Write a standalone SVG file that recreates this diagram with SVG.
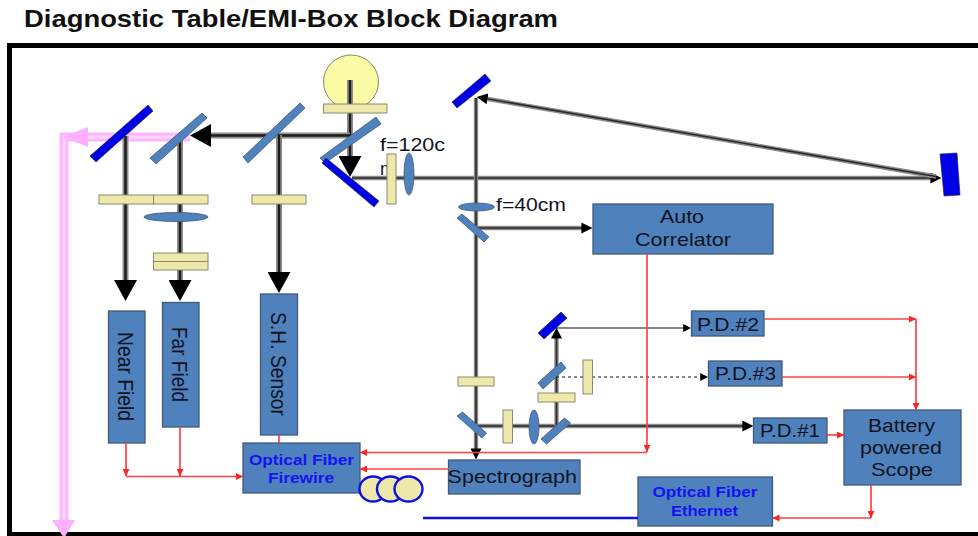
<svg xmlns="http://www.w3.org/2000/svg" width="978" height="536" viewBox="0 0 978 536">
<style>
text{font-family:"Liberation Sans",Arial,sans-serif;fill:#10131f;font-size:19px}
.v{font-size:22px}
.m{font-size:18px}
.b{font-weight:bold;font-size:15px;fill:#1414f0}
.title{font-weight:bold;font-size:24px;fill:#111}
.box{fill:#4f81bd;stroke:#41597a;stroke-width:1.3}
.bs{fill:#4f81bd;stroke:#41597a;stroke-width:.8}
.mir{fill:#0000e6;stroke:#223;stroke-width:.6}
.pl{fill:#eee8aa;stroke:#8a8a70;stroke-width:1}
.under{fill:none;stroke:#8c8c8c;stroke-width:6}
.core{fill:none;stroke:#1c1c1c;stroke-width:2.400}
.tunder{fill:none;stroke:#8c8c8c;stroke-width:4.400}
.tcore{fill:none;stroke:#2a2a2a;stroke-width:1.600}
.red{fill:none;stroke:#ff4040;stroke-width:1.700}
.ar{marker-end:url(#ra)}
.pink{fill:none;stroke:#fdb8fd;stroke-width:9}
.pinkc{fill:none;stroke:#ffd4ff;stroke-width:3}
</style>
<defs>
<marker id="big" markerUnits="userSpaceOnUse" viewBox="0 0 10 10" refX="6.200" refY="5" markerWidth="21" markerHeight="23" preserveAspectRatio="none" orient="auto"><path d="M0 0L10 5L0 10Z" fill="#000"/></marker>
<marker id="mid" markerUnits="userSpaceOnUse" viewBox="0 0 10 10" refX="6" refY="5" markerWidth="11" markerHeight="11" preserveAspectRatio="none" orient="auto"><path d="M0 0L10 5L0 10Z" fill="#000"/></marker>
<marker id="small" markerUnits="userSpaceOnUse" viewBox="0 0 10 10" refX="6" refY="5" markerWidth="8" markerHeight="8" preserveAspectRatio="none" orient="auto"><path d="M0 0L10 5L0 10Z" fill="#000"/></marker>
<marker id="ra" markerUnits="userSpaceOnUse" viewBox="0 0 10 10" refX="10" refY="5" markerWidth="7" markerHeight="7" preserveAspectRatio="none" orient="auto"><path d="M0 0L10 5L0 10Z" fill="#f22"/></marker>
</defs>
<rect width="978" height="536" fill="#fff"/>
<text class="title" x="24" y="27" textLength="534" lengthAdjust="spacingAndGlyphs">Diagnostic Table/EMI-Box Block Diagram</text>
<path d="M978 45.500H9.500V534.500H978" fill="none" stroke="#000" stroke-width="5"/>
<g id="lamp"><ellipse cx="351" cy="82" rx="27.500" ry="27" fill="#fbfba5" stroke="#8a8a60"/></g>
<text class="m" x="380" y="175">m</text>
<g id="connectors">
<g id="pink-beam">
<path class="pink" d="M190 137H64V522"/><path class="pinkc" d="M190 137H64V522"/>
<polygon points="63,137 88,127 88,147" fill="#fdb0fd"/>
<polygon points="52,520 75,520 64,538" fill="#fdb0fd"/>
</g>
<g id="beams">
<path class="under" d="M350 80V165"/><path class="core" d="M350 80V169" marker-end="url(#big)"/>
<path class="under" d="M350 135.500H205"/><path class="core" d="M350 135.500H198" marker-end="url(#big)"/>
<path class="under" d="M279 135V280"/><path class="core" d="M279 135V285" marker-end="url(#big)"/>
<path class="under" d="M180 140V285"/><path class="core" d="M180 140V293" marker-end="url(#big)"/>
<path class="under" d="M125.500 136V285"/><path class="core" d="M125.500 136V293" marker-end="url(#big)"/>
<path class="tunder" d="M352 178H935"/><path class="tcore" d="M352 178H937" marker-end="url(#mid)"/>
<path class="tunder" d="M936 176.500L482 98"/><path class="tcore" d="M936 176.500L481 97.700" marker-end="url(#mid)"/>
<path class="tunder" d="M476 98V452"/><path class="tcore" d="M476 98V455" marker-end="url(#mid)"/>
<path class="tunder" d="M476 228H585"/><path class="tcore" d="M476 228H588" marker-end="url(#mid)"/>
<path class="tunder" d="M476 426H746"/><path class="tcore" d="M476 426H749" marker-end="url(#mid)"/>
<path class="tunder" d="M556.500 426V335"/><path class="tcore" d="M556.500 426V332" marker-end="url(#mid)"/>
<path d="M556 328H688" fill="none" stroke="#111" stroke-width="1.200" marker-end="url(#small)"/>
<path d="M556 377H705" fill="none" stroke="#111" stroke-width="1.200" stroke-dasharray="3 3" marker-end="url(#small)"/>
</g>
</g>
<g id="optics">
<polygon class="mir" points="90,156 148,105 153,111 96,162"/>
<polygon class="bs" points="150,158 202,113 207,118 156,164"/>
<polygon class="bs" points="243,157 300,103 305,108 248,163"/>
<polygon class="bs" points="320,158 376,117 381,124 325,163"/>
<polygon class="mir" points="322,163 326,158 379,201 374,207"/>
<rect class="pl" x="323.500" y="104" width="63.500" height="9"/>
<rect class="pl" x="99" y="195" width="55" height="9"/>
<rect class="pl" x="153.500" y="195" width="54.500" height="9"/>
<rect class="pl" x="252" y="195" width="54" height="9"/>
<ellipse class="bs" cx="176" cy="217" rx="32" ry="4.500"/>
<rect class="pl" x="153.500" y="253" width="54.500" height="8.500"/>
<rect class="pl" x="153.500" y="261.500" width="54.500" height="8.500"/>
<rect class="pl" x="387" y="154" width="9" height="50"/>
<ellipse class="bs" cx="409" cy="174" rx="5" ry="21"/>
<polygon class="mir" points="452,102 485,74 491,81 457,108"/>
<polygon class="mir" points="940,154 957,153 960,195 944,196"/>
<ellipse class="bs" cx="476.500" cy="207" rx="18" ry="4"/>
<polygon class="bs" points="457,218 462,214 489,237 484,242"/>
<rect class="pl" x="458" y="377" width="36" height="9"/>
<polygon class="bs" points="457,416 462.500,412 486.500,433 482,438"/>
<rect class="pl" x="503" y="410" width="9.500" height="33"/>
<ellipse class="bs" cx="534" cy="427" rx="5" ry="17"/>
<polygon class="bs" points="541,439 564.500,418 570.500,423 546.500,444"/>
<rect class="pl" x="538" y="393" width="37" height="9"/>
<polygon class="bs" points="538,383 561,362 566,368 543,389"/>
<rect class="pl" x="583" y="360" width="9.500" height="34"/>
<polygon class="mir" points="538,333 561,312 567,318 544,339"/>
</g>
<text x="380" y="151" textLength="65" lengthAdjust="spacingAndGlyphs">f=120c</text>
<text x="496" y="211" textLength="70" lengthAdjust="spacingAndGlyphs">f=40cm</text>
<g id="near-field"><rect class="box" x="108.500" y="311" width="36.500" height="132"/><text class="v" transform="translate(118,332) rotate(90)" textLength="89" lengthAdjust="spacingAndGlyphs">Near Field</text></g>
<g id="far-field"><rect class="box" x="162.500" y="302.500" width="36.500" height="124.500"/><text class="v" transform="translate(172,327) rotate(90)" textLength="75" lengthAdjust="spacingAndGlyphs">Far Field</text></g>
<g id="sh-sensor"><rect class="box" x="260.500" y="294" width="37" height="141"/><text class="v" transform="translate(271,312) rotate(90)" textLength="104" lengthAdjust="spacingAndGlyphs">S.H. Sensor</text></g>
<g id="firewire"><rect class="box" x="243" y="443" width="117" height="50"/><text class="b" x="249" y="465" textLength="105" lengthAdjust="spacingAndGlyphs">Optical Fiber</text><text class="b" x="268" y="483" textLength="66" lengthAdjust="spacingAndGlyphs">Firewire</text></g>
<g id="fiber-coil" fill="#eee8aa" stroke="#1010e0" stroke-width="2.400"><ellipse cx="373" cy="489" rx="13.500" ry="12.500"/><ellipse cx="390.500" cy="489" rx="13.500" ry="12.500"/><ellipse cx="408.500" cy="489" rx="14" ry="12.500"/></g>
<g id="auto-correlator"><rect class="box" x="593" y="204" width="180" height="50"/><text x="660" y="223" textLength="44" lengthAdjust="spacingAndGlyphs">Auto</text><text x="635" y="246" textLength="96" lengthAdjust="spacingAndGlyphs">Correlator</text></g>
<g id="spectrograph"><rect class="box" x="448.500" y="460" width="131.500" height="34"/><text x="447.500" y="483" textLength="129.500" lengthAdjust="spacingAndGlyphs">Spectrograph</text></g>
<g id="pd2"><rect class="box" x="691.500" y="311" width="72.500" height="25"/><text x="697" y="331" textLength="62" lengthAdjust="spacingAndGlyphs">P.D.#2</text></g>
<g id="pd3"><rect class="box" x="708.500" y="361" width="73.500" height="25"/><text x="715" y="380" textLength="61" lengthAdjust="spacingAndGlyphs">P.D.#3</text></g>
<g id="pd1"><rect class="box" x="753.500" y="418" width="73.500" height="25"/><text x="760" y="437" textLength="60" lengthAdjust="spacingAndGlyphs">P.D.#1</text></g>
<g id="scope"><rect class="box" x="844" y="410" width="117" height="75"/><text x="868" y="432" textLength="67" lengthAdjust="spacingAndGlyphs">Battery</text><text x="860" y="454" textLength="82" lengthAdjust="spacingAndGlyphs">powered</text><text x="871" y="476" textLength="62" lengthAdjust="spacingAndGlyphs">Scope</text></g>
<g id="ethernet"><rect class="box" x="638" y="477" width="134.500" height="49"/><text class="b" x="652.500" y="497" textLength="105" lengthAdjust="spacingAndGlyphs">Optical Fiber</text><text class="b" x="671" y="516" textLength="67" lengthAdjust="spacingAndGlyphs">Ethernet</text></g>
<g id="signals">
<path class="red ar" d="M126 443V476"/>
<path class="red ar" d="M180 427V476"/>
<path class="red ar" d="M126 476.500H243"/>
<path class="red" d="M279 435V443"/>
<path class="red ar" d="M647 254V452"/>
<path class="red ar" d="M647 452.500H360"/>
<path class="red ar" d="M449 469H360"/>
<path class="red ar" d="M764 319H916"/>
<path class="red ar" d="M916 319V410"/>
<path class="red ar" d="M782 377H916"/>
<path class="red ar" d="M827 435H844"/>
<path class="red ar" d="M871 485V518"/>
<path class="red ar" d="M871 518H772.500"/>
<path d="M423 518H638" fill="none" stroke="#1010e0" stroke-width="2.400"/>
</g>
</svg>
